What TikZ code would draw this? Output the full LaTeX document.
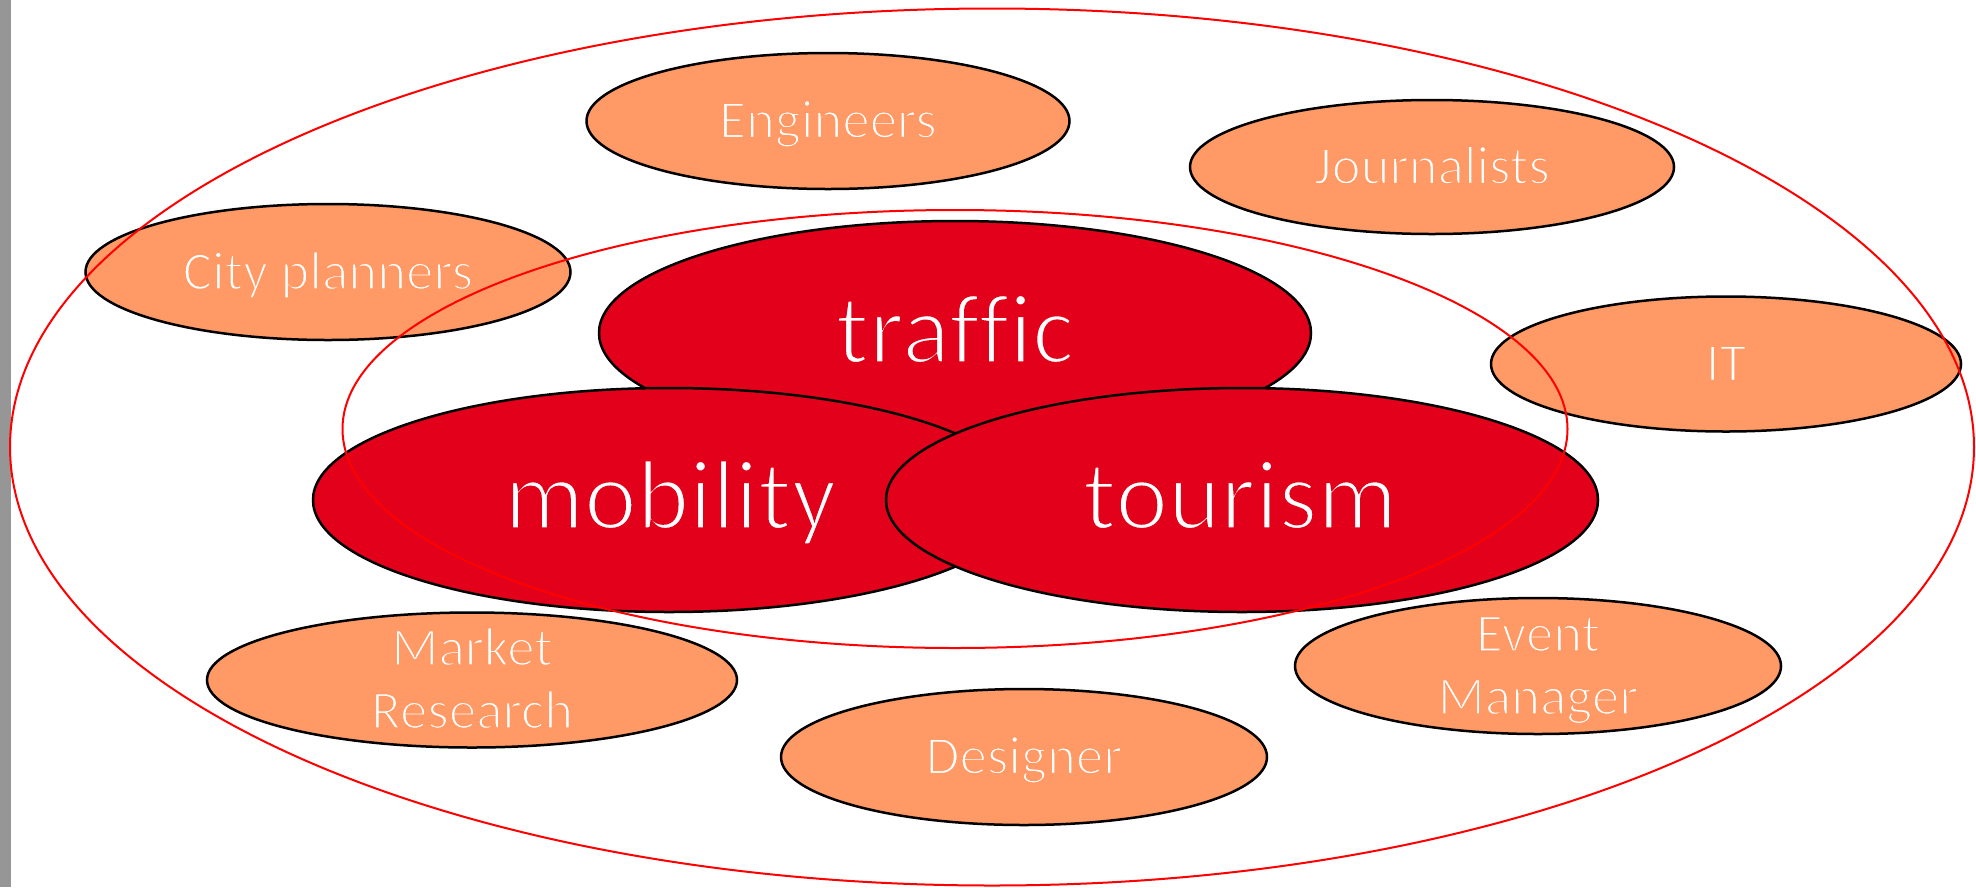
\documentclass[tikz,border=0pt]{standalone}
\usepackage{fontspec}
\setmainfont{Carlito}[Ligatures=CommonOff]
\newfontfamily\thinfont{Carlito}[Ligatures=CommonOff, RawFeature={embolden=4}]
\newfontfamily\thinbigfont{Carlito}[Ligatures=CommonOff, RawFeature={embolden=3.5}]
\usetikzlibrary{shapes.geometric}
\definecolor{bigred}{RGB}{226,0,26}
\definecolor{softorange}{RGB}{255,153,102}
\definecolor{ringred}{RGB}{255,0,0}
\definecolor{barGray}{RGB}{150,150,150}
% stroke the glyph outlines in the background colour to make the strokes lighter
\newcommand\onred[1]{\special{pdf:code 0.886 0 0.102 RG}#1}
\newcommand\onorange[1]{\special{pdf:code 1 0.6 0.4 RG}#1}
\tikzset{
  bigell/.style={ellipse, draw=black, line width=2.5pt, fill=bigred,
    minimum width=712pt, minimum height=224pt, inner sep=0pt},
  smallell/.style={ellipse, draw=black, line width=2.5pt, fill=softorange,
    minimum height=136pt, inner sep=0pt},
  ring/.style={ellipse, draw=ringred, line width=2pt, inner sep=0pt},
  bigtxt/.style={text=white, inner sep=0pt, anchor=base,
    font=\thinbigfont\fontsize{100}{110}\selectfont},
  smalltxt/.style={text=white, inner sep=0pt,
    font=\thinfont\fontsize{55}{63}\selectfont}
}
\begin{document}
\begin{tikzpicture}[x=1pt,y=-1pt]
\useasboundingbox (0,0) rectangle (1976,887);
\fill[barGray] (0,0) rectangle (11,887);

% small orange ellipses
\node[smallell, minimum width=483pt] (engineers) at (828,121) {};
\node[smallell, minimum width=484pt, minimum height=134pt] (journalists) at (1432,167) {};
\node[smallell, minimum width=485pt] (cityplanners) at (328,272) {};
\node[smallell, minimum width=470pt, minimum height=135pt] (it) at (1726,364) {};
\node[smallell, minimum width=530pt, minimum height=135pt] (market) at (472,680) {};
\node[smallell, minimum width=486pt] (event) at (1538,666) {};
\node[smallell, minimum width=486pt] (designer) at (1024,757) {};

% big red ellipses
\node[bigell] (traffic) at (955,333) {};
\node[bigell] (mobility) at (669,500) {};
\node[bigell] (tourism) at (1242,500) {};

% texts
\node[bigtxt] (traffic-t) at ([yshift=-30pt]traffic.center) {\onred{traffic}};
\node[bigtxt] (mobility-t) at ([xshift=1.5pt,yshift=-29pt]mobility.center) {\onred{mobility}};
\node[bigtxt] (tourism-t) at ([xshift=-2pt,yshift=-29pt]tourism.center) {\onred{tourism}};

\node[smalltxt, anchor=base] (engineers-t) at ([yshift=-17pt]engineers.center) {\onorange{Engineers}};
\node[smalltxt, anchor=base] (journalists-t) at ([yshift=-17pt]journalists.center) {\onorange{Journalists}};
\node[smalltxt, anchor=base] (cityplanners-t) at ([yshift=-17.5pt]cityplanners.center) {\onorange{City planners}};
\node[smalltxt, anchor=base] (it-t) at ([yshift=-17pt]it.center) {\onorange{IT}};
\node[smalltxt, anchor=base] (designer-t) at ([yshift=-17pt]designer.center) {\onorange{Designer}};
\node[smalltxt, align=center] (market-t) at (market.center)
  {\rule{0pt}{48pt}\onorange{Market}\\\onorange{Research}\rule[-14pt]{0pt}{14pt}};
\node[smalltxt, align=center] (event-t) at (event.center)
  {\rule{0pt}{48pt}\onorange{Event}\\\onorange{Manager}\rule[-14pt]{0pt}{14pt}};

% red outlines
\node[ring, minimum width=1964pt, minimum height=877pt] (outer) at (992,447) {};
\node[ring, minimum width=1225pt, minimum height=438pt] (inner) at (955,429) {};
\end{tikzpicture}
\end{document}
